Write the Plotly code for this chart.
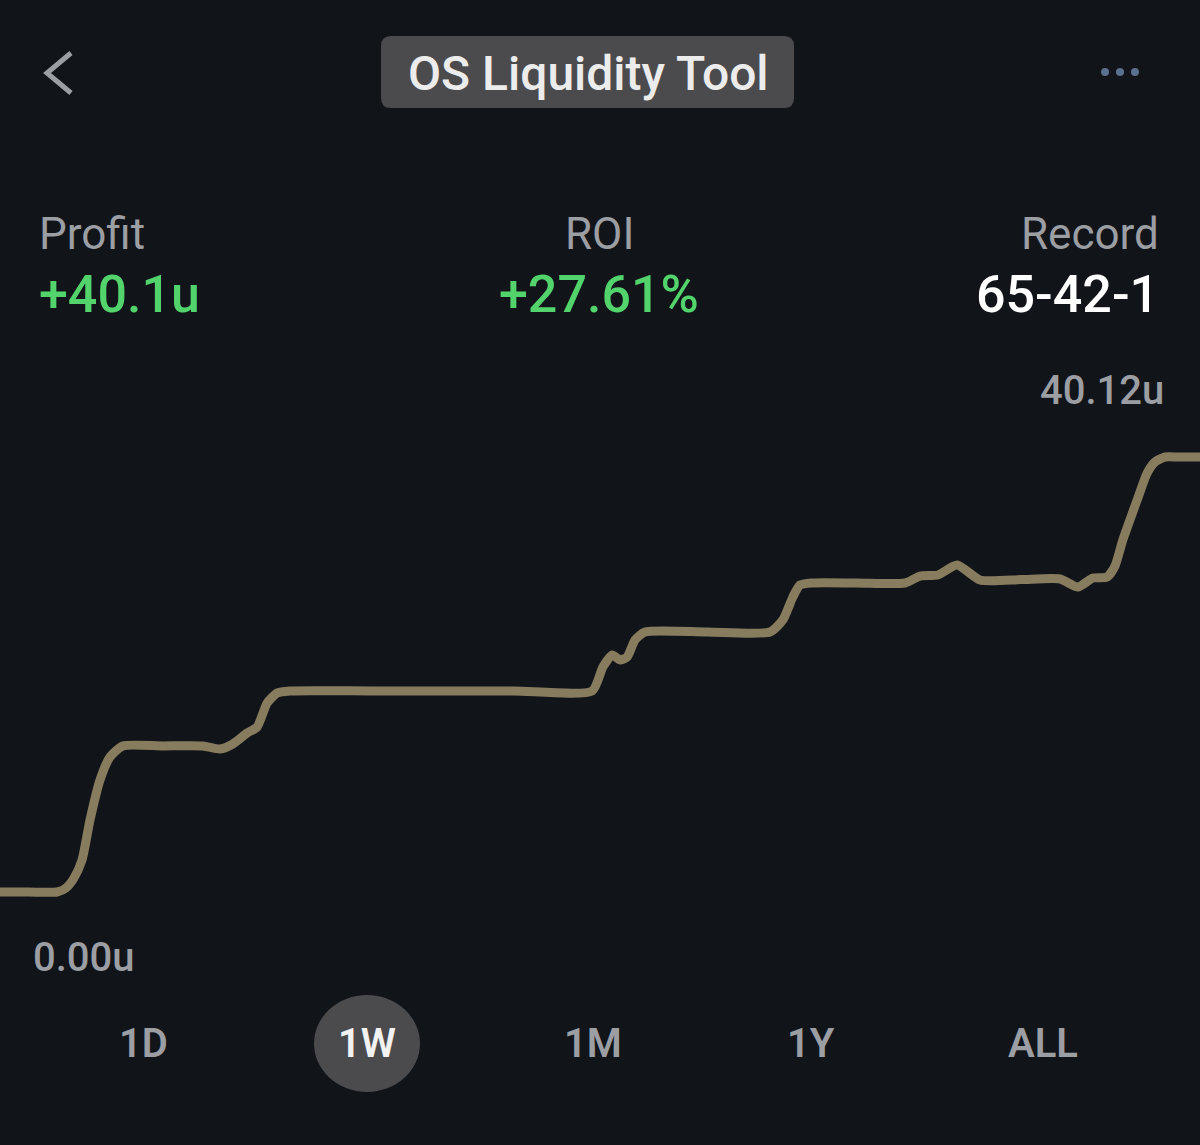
import plotly.graph_objects as go

# ---- data (hours into the week, cumulative profit in units) ----
hours = [0, 4.0, 8.0, 9.24, 10.36, 11.48, 12.6, 14.0, 15.4, 17.2, 22.8, 28.4, 30.8, 32.6, 34.6, 36.0, 37.4, 38.8, 40.6,
         52.0, 62.0, 72.0, 82.9, 84.4, 85.7, 86.8, 87.8, 88.9, 90.3, 99.0, 107.8, 109.6, 111.0, 112.0, 113.7,
         120.0, 126.7, 128.8, 131.3, 134.0, 137.2, 143.0, 148.4, 150.9, 153.0, 155.0, 156.1, 157.2, 159.2,
         160.6, 161.7, 163.1, 165.0, 168.0]
profit = [0, 0, 0, 0.37, 1.29, 2.95, 6.64, 10.33, 12.45, 13.47, 13.47, 13.47, 13.19, 13.65, 14.66, 15.22, 17.43, 18.35, 18.54,
          18.54, 18.54, 18.54, 18.54, 20.75, 21.86, 21.40, 21.67, 23.24, 23.98, 23.98, 23.98, 25.09, 27.21, 28.31, 28.50,
          28.50, 28.50, 29.14, 29.24, 30.16, 28.78, 28.82, 28.87, 28.13, 28.96, 29.05, 30.07, 32.47, 36.15,
          38.64, 39.66, 40.12, 40.12, 40.12]

title = "OS Liquidity Tool"
stat_labels = ["Profit", "ROI", "Record"]
stat_values = ["+40.1u", "+27.61%", "65-42-1"]
max_label = "40.12u"
min_label = "0.00u"
ranges = ["1D", "1W", "1M", "1Y", "ALL"]
selected_range = "1W"

BG = "#111419"
GRAY = "#9b9ea3"
GREEN = "#52d36c"
LINE = "#887c5f"

W, H = 1200, 1145
PT, PB = 440, 910  # plot area top / bottom in pixels


def px(x):
    return x / W


def py(y):
    return (PB - y) / (PB - PT)


def rounded_rect(x0, y0, x1, y1, r):
    # pixel coords (y down) -> paper path with rounded corners
    X = lambda v: px(v)
    Y = lambda v: py(v)
    return (f"M {X(x0 + r)} {Y(y0)} L {X(x1 - r)} {Y(y0)} "
            f"Q {X(x1)} {Y(y0)} {X(x1)} {Y(y0 + r)} L {X(x1)} {Y(y1 - r)} "
            f"Q {X(x1)} {Y(y1)} {X(x1 - r)} {Y(y1)} L {X(x0 + r)} {Y(y1)} "
            f"Q {X(x0)} {Y(y1)} {X(x0)} {Y(y1 - r)} L {X(x0)} {Y(y0 + r)} "
            f"Q {X(x0)} {Y(y0)} {X(x0 + r)} {Y(y0)} Z")


fig = go.Figure()
fig.add_trace(go.Scatter(
    x=hours, y=profit, mode="lines",
    line=dict(color=LINE, width=9, shape="spline", smoothing=0.6),
    hoverinfo="skip", showlegend=False,
))

vmin, vmax = 0.0, 40.12
per_px = (vmax - vmin) / (892 - 457)
y_lo = vmin - (PB - 892) * per_px
y_hi = vmax + (457 - PT) * per_px

fig.update_layout(
    width=W, height=H,
    margin=dict(l=0, r=0, t=PT, b=H - PB, pad=0),
    paper_bgcolor=BG, plot_bgcolor=BG,
    xaxis=dict(range=[0, 168], visible=False, fixedrange=True),
    yaxis=dict(range=[y_lo, y_hi], visible=False, fixedrange=True),
    font=dict(family="Roboto, Inter, sans-serif"),
    showlegend=False,
)

shapes = []
annotations = []

# back chevron
shapes.append(dict(type="path", xref="paper", yref="paper",
                   path=f"M {px(71)} {py(53)} L {px(47)} {py(73)} L {px(71)} {py(93)}",
                   line=dict(color=GRAY, width=5)))
# title pill
shapes.append(dict(type="path", xref="paper", yref="paper",
                   path=rounded_rect(381, 36, 794, 108, 10),
                   fillcolor="#4b4b4d", line=dict(width=0), layer="below"))
annotations.append(dict(text=title, x=px(588), y=py(73), xref="paper", yref="paper",
                        showarrow=False, xanchor="center", yanchor="middle",
                        font=dict(size=48, color="#ececec", weight=500)))
# more dots
for cx in [1105, 1120, 1135]:
    shapes.append(dict(type="circle", xref="paper", yref="paper",
                       x0=px(cx - 4), x1=px(cx + 4), y0=py(76), y1=py(68),
                       fillcolor="#5b6f8e", line=dict(width=0)))

# stats
stat_x = [37, 599, 1161]
stat_anchor = ["left", "center", "right"]
stat_colors = [GREEN, GREEN, "#ffffff"]
for lab, val, xx, anc, col in zip(stat_labels, stat_values, stat_x, stat_anchor, stat_colors):
    annotations.append(dict(text=lab, x=px(xx), y=py(234), xref="paper", yref="paper",
                            showarrow=False, xanchor=anc, yanchor="middle",
                            font=dict(size=44, color=GRAY)))
    annotations.append(dict(text=val, x=px(xx), y=py(294), xref="paper", yref="paper",
                            showarrow=False, xanchor=anc, yanchor="middle",
                            font=dict(size=52, color=col, weight=500)))

# min / max labels
annotations.append(dict(text=max_label, x=px(1166), y=py(390), xref="paper", yref="paper",
                        showarrow=False, xanchor="right", yanchor="middle",
                        font=dict(size=40, color=GRAY, weight=500)))
annotations.append(dict(text=min_label, x=px(31), y=py(957), xref="paper", yref="paper",
                        showarrow=False, xanchor="left", yanchor="middle",
                        font=dict(size=40, color=GRAY, weight=500)))

# range buttons
btn_x = [143, 367, 593, 811, 1043]
for lab, bx in zip(ranges, btn_x):
    sel = lab == selected_range
    if sel:
        shapes.append(dict(type="circle", xref="paper", yref="paper",
                           x0=px(bx - 53), x1=px(bx + 53), y0=py(1092), y1=py(995),
                           fillcolor="#4b4b4d", line=dict(width=0), layer="below"))
    annotations.append(dict(text=lab, x=px(bx), y=py(1043), xref="paper", yref="paper",
                            showarrow=False, xanchor="center", yanchor="middle",
                            font=dict(size=40, color="#f2f2f2" if sel else GRAY, weight=600)))

fig.update_layout(shapes=shapes, annotations=annotations)
fig.write_html(
    "out.html",
    config={"displayModeBar": False},
    post_script="document.body.style.margin='0';document.body.style.background='" + BG + "';"
                "document.documentElement.style.overflow='hidden';",
)
